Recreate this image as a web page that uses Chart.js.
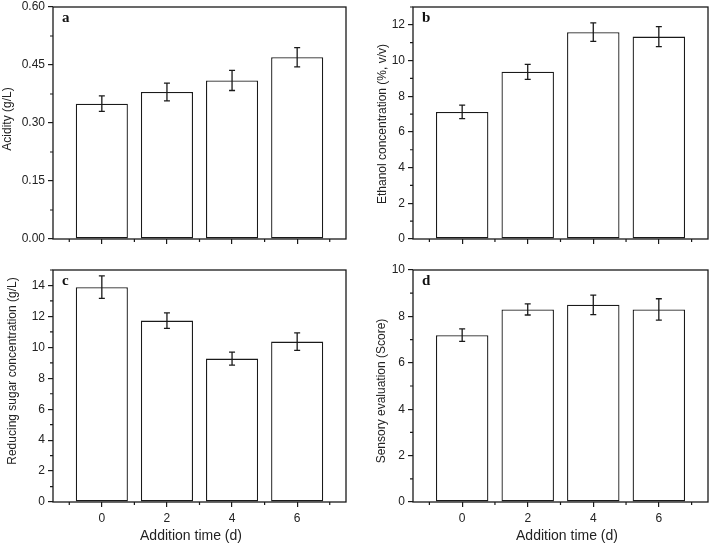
<!DOCTYPE html>
<html lang="en">
<head>
<meta charset="UTF-8">
<title>Addition time effects</title>
<style>
    body { margin: 0; background: #fff; }
    #wrap { position: relative; width: 709px; height: 545px; background: #fff; }
    #wrap canvas { position: absolute; }
</style>
</head>
<body>
<div id="wrap">
    <canvas id="panelA" width="354" height="262" style="left:0;top:0"></canvas>
    <canvas id="panelB" width="355" height="262" style="left:354px;top:0"></canvas>
    <canvas id="panelC" width="354" height="283" style="left:0;top:262px"></canvas>
    <canvas id="panelD" width="355" height="283" style="left:354px;top:262px"></canvas>
</div>
<script src="https://cdn.jsdelivr.net/npm/chart.js@4"></script>
<script>
// data
const addTimes = [0, 2, 4, 6];
const xTicks = [0, 2, 4, 6];
const xMinor = [-1, 1, 3, 5, 7];

const acidity = [0.35, 0.38, 0.41, 0.47];
const acidityErr = [0.02, 0.023, 0.026, 0.025];
const acidityTicks = [0, 0.15, 0.30, 0.45, 0.60];
const acidityMinor = [0.075, 0.225, 0.375, 0.525];

const ethanol = [7.12, 9.37, 11.59, 11.34];
const ethanolErr = [0.38, 0.42, 0.52, 0.56];
const ethanolTicks = [0, 2, 4, 6, 8, 10, 12];
const ethanolMinor = [1, 3, 5, 7, 9, 11, 13];

const sugar = [13.89, 11.73, 9.27, 10.37];
const sugarErr = [0.73, 0.5, 0.42, 0.57];
const sugarTicks = [0, 2, 4, 6, 8, 10, 12, 14];
const sugarMinor = [1, 3, 5, 7, 9, 11, 13, 15];

const sensory = [7.19, 8.30, 8.50, 8.30];
const sensoryErr = [0.27, 0.24, 0.42, 0.46];
const sensoryTicks = [0, 2, 4, 6, 8, 10];
const sensoryMinor = [1, 3, 5, 7, 9];

const ink = '#1a1a1a';
const sans = '"Liberation Sans", Arial, sans-serif';

function makePanel(id, p) {
    const canvas = document.getElementById(id);
    const W = canvas.width, H = canvas.height;

    // minor ticks, error bars, frame, letter and axis titles
    const deco = {
        id: 'deco',
        afterDraw(chart) {
            const { ctx, chartArea: a } = chart;
            const x = chart.scales.x, y = chart.scales.y;
            ctx.save();
            ctx.strokeStyle = ink;
            ctx.lineWidth = 1.2;

            ctx.beginPath();
            p.minor.forEach(v => {
                const py = y.getPixelForValue(v);
                ctx.moveTo(a.left - 3, py);
                ctx.lineTo(a.left, py);
            });
            xMinor.forEach(v => {
                const px = x.getPixelForValue(v);
                ctx.moveTo(px, a.bottom);
                ctx.lineTo(px, a.bottom + 3);
            });
            ctx.stroke();

            // error bars
            ctx.lineWidth = 1.3;
            ctx.beginPath();
            chart.getDatasetMeta(0).data.forEach((bar, i) => {
                const top = y.getPixelForValue(p.values[i] + p.err[i]);
                const bot = y.getPixelForValue(p.values[i] - p.err[i]);
                ctx.moveTo(bar.x, top); ctx.lineTo(bar.x, bot);
                ctx.moveTo(bar.x - 3, top); ctx.lineTo(bar.x + 3, top);
                ctx.moveTo(bar.x - 3, bot); ctx.lineTo(bar.x + 3, bot);
            });
            ctx.stroke();

            ctx.lineWidth = 1.3;
            ctx.strokeRect(a.left, a.top, a.right - a.left, a.bottom - a.top);

            ctx.fillStyle = '#111';
            ctx.font = 'bold 15px "Liberation Serif", "Times New Roman", serif';
            ctx.textAlign = 'left';
            ctx.textBaseline = 'alphabetic';
            ctx.fillText(p.letter, a.left + 9, a.top + 15);

            ctx.fillStyle = '#222';
            ctx.font = '12px ' + sans;
            ctx.textAlign = 'center';
            ctx.textBaseline = 'middle';
            ctx.save();
            ctx.translate(p.yTitlePos[0], p.yTitlePos[1]);
            ctx.rotate(-Math.PI / 2);
            ctx.fillText(p.yTitle, 0, 0);
            ctx.restore();

            if (p.xTitlePos) {
                ctx.font = '14px ' + sans;
                ctx.fillText('Addition time (d)', p.xTitlePos[0], p.xTitlePos[1]);
            }
            ctx.restore();
        }
    };

    return new Chart(canvas, {
        type: 'bar',
        data: {
            datasets: [{
                data: addTimes.map((t, i) => ({ x: t, y: p.values[i] })),
                backgroundColor: '#fff',
                borderColor: ink,
                borderWidth: 1.3,
                borderSkipped: false,
                barPercentage: 0.8,
                categoryPercentage: 1
            }]
        },
        options: {
            responsive: false,
            animation: false,
            devicePixelRatio: 1,
            layout: { padding: { top: p.box.top, right: W - p.box.right, bottom: 0, left: 0 } },
            plugins: { legend: { display: false }, tooltip: { enabled: false } },
            scales: {
                x: {
                    type: 'linear',
                    offset: false,
                    min: -1.5,
                    max: 7.5,
                    afterBuildTicks: s => { s.ticks = xTicks.map(v => ({ value: v })); },
                    afterFit: s => {
                        s.height = H - p.box.bottom;
                        s.paddingLeft = 0; s.paddingRight = 0;
                    },
                    ticks: {
                        autoSkip: false,
                        maxRotation: 0,
                        padding: 4,
                        color: '#222',
                        font: { family: sans, size: 12 },
                        callback: v => p.xLabels ? String(v) : ''
                    },
                    grid: { offset: false, drawOnChartArea: false, drawTicks: true, tickLength: 5, color: ink, lineWidth: 1.2 },
                    border: { display: false }
                },
                y: {
                    min: 0,
                    max: p.max,
                    afterBuildTicks: s => { s.ticks = p.ticks.map(v => ({ value: v })); },
                    afterFit: s => {
                        s.width = p.box.left;
                        s.paddingTop = 0; s.paddingBottom = 0;
                    },
                    ticks: {
                        padding: 3,
                        color: '#222',
                        font: { family: sans, size: 12 },
                        callback: v => p.fmt(v)
                    },
                    grid: { drawOnChartArea: false, drawTicks: true, tickLength: 5, color: ink, lineWidth: 1.2 },
                    border: { display: false }
                }
            }
        },
        plugins: [deco]
    });
}

makePanel('panelA', {
    values: acidity, err: acidityErr, ticks: acidityTicks, minor: acidityMinor, max: 0.6,
    fmt: v => v.toFixed(2), letter: 'a', yTitle: 'Acidity (g/L)',
    box: { left: 53, right: 346, top: 7, bottom: 239 },
    yTitlePos: [7.5, 119], xLabels: false
});
makePanel('panelB', {
    values: ethanol, err: ethanolErr, ticks: ethanolTicks, minor: ethanolMinor, max: 13,
    fmt: v => String(v), letter: 'b', yTitle: 'Ethanol concentration (%, v/v)',
    box: { left: 59, right: 354, top: 7, bottom: 239 },
    yTitlePos: [29, 124], xLabels: false
});
makePanel('panelC', {
    values: sugar, err: sugarErr, ticks: sugarTicks, minor: sugarMinor, max: 15,
    fmt: v => String(v), letter: 'c', yTitle: 'Reducing sugar concentration (g/L)',
    box: { left: 53, right: 346, top: 8, bottom: 240 },
    yTitlePos: [12.5, 109], xLabels: true, xTitlePos: [191, 274]
});
makePanel('panelD', {
    values: sensory, err: sensoryErr, ticks: sensoryTicks, minor: sensoryMinor, max: 10,
    fmt: v => String(v), letter: 'd', yTitle: 'Sensory evaluation (Score)',
    box: { left: 59, right: 354, top: 8, bottom: 240 },
    yTitlePos: [28, 129], xLabels: true, xTitlePos: [213, 274]
});
</script>
</body>
</html>
